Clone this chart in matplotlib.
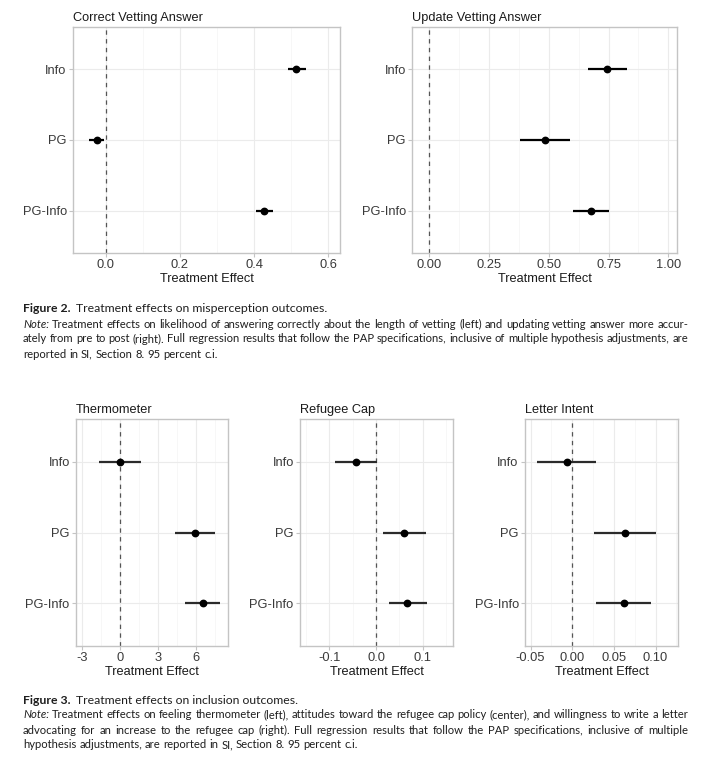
import numpy as np
import matplotlib
matplotlib.use("Agg")
import matplotlib.pyplot as plt

plt.rcParams['font.family'] = ['Liberation Sans', 'DejaVu Sans']
plt.rcParams['axes.unicode_minus'] = False

W, H = 701, 758

cats = ["Info", "PG", "PG-Info"]

# Figure 2 panels
correct_est = [0.513, -0.024, 0.427]
correct_lo = [0.490, -0.044, 0.405]
correct_hi = [0.540, -0.005, 0.450]

update_est = [0.745, 0.484, 0.678]
update_lo = [0.663, 0.380, 0.600]
update_hi = [0.825, 0.590, 0.752]

# Figure 3 panels
thermo_est = [0.0, 5.97, 6.55]
thermo_lo = [-1.65, 4.35, 5.15]
thermo_hi = [1.65, 7.56, 7.96]

cap_est = [-0.043, 0.061, 0.067]
cap_lo = [-0.089, 0.016, 0.027]
cap_hi = [0.003, 0.108, 0.109]

letter_est = [-0.0068, 0.0628, 0.0620]
letter_lo = [-0.0427, 0.0260, 0.0290]
letter_hi = [0.0290, 0.1000, 0.0950]

fig = plt.figure(figsize=(W / 100, H / 100), dpi=100)


def add_ax(l, t, r, b):
    return fig.add_axes([l / W, 1 - b / H, (r - l) / W, (b - t) / H])


def forest(ax, title, est, lo, hi, xlim, xticks, xlabels, minor, lcol='black'):
    y = np.arange(len(cats))
    ax.set_xlim(xlim)
    ax.set_ylim(len(cats) - 0.4, -0.6)
    ax.set_xticks(xticks)
    ax.set_xticklabels(xlabels)
    ax.set_xticks(minor, minor=True)
    ax.set_yticks(y)
    ax.set_yticklabels(cats)
    ax.grid(which='major', color='#EBEBEB', lw=0.8)
    ax.grid(which='minor', axis='x', color='#F4F4F4', lw=0.5)
    ax.set_axisbelow(True)
    for s in ax.spines.values():
        s.set_color('#C4C4C4')
        s.set_linewidth(1.0)
    ax.tick_params(which='major', color='#C4C4C4', length=3, width=0.8,
                   labelcolor='#3A3A3A', labelsize=9.3, pad=1.5)
    ax.tick_params(which='minor', length=0)
    ax.axvline(0, color='#555555', lw=0.9, ls=(0, (3.5, 3.5)), zorder=2)
    ax.hlines(y, lo, hi, color=lcol, lw=1.6, zorder=3)
    ax.plot(est, y, 'o', color='black', ms=4.6, zorder=4)
    ax.set_xlabel("Treatment Effect", fontsize=9.2, color='#1A1A1A', labelpad=1)
    ax.set_title(title, loc='left', fontsize=9.2, color='#1A1A1A', pad=4)


ax1 = add_ax(73, 27, 340, 253)
forest(ax1, "Correct Vetting Answer", correct_est, correct_lo, correct_hi,
       (-0.088, 0.631), [0.0, 0.2, 0.4, 0.6], ["0.0", "0.2", "0.4", "0.6"],
       [0.1, 0.3, 0.5])

ax2 = add_ax(412, 27, 677, 253)
forest(ax2, "Update Vetting Answer", update_est, update_lo, update_hi,
       (-0.072, 1.036), [0, 0.25, 0.5, 0.75, 1.0],
       ["0.00", "0.25", "0.50", "0.75", "1.00"],
       [0.125, 0.375, 0.625, 0.875])

ax3 = add_ax(76, 419, 228, 646)
forest(ax3, "Thermometer", thermo_est, thermo_lo, thermo_hi,
       (-3.5, 8.57), [-3, 0, 3, 6], ["-3", "0", "3", "6"],
       [-1.5, 1.5, 4.5, 7.5], lcol='#2B2B2B')

ax4 = add_ax(300, 419, 453, 646)
forest(ax4, "Refugee Cap", cap_est, cap_lo, cap_hi,
       (-0.163, 0.165), [-0.1, 0.0, 0.1], ["-0.1", "0.0", "0.1"],
       [-0.15, -0.05, 0.05, 0.15], lcol='#2B2B2B')

ax5 = add_ax(525, 419, 678, 646)
forest(ax5, "Letter Intent", letter_est, letter_lo, letter_hi,
       (-0.0567, 0.127), [-0.05, 0.0, 0.05, 0.10],
       ["-0.05", "0.00", "0.05", "0.10"],
       [-0.025, 0.025, 0.075, 0.125], lcol='#2B2B2B')

# captions
renderer = fig.canvas.get_renderer()
CAP_FONT = ['Lato', 'DejaVu Sans']
CAP_SIZE = 8.1
X0, X1 = 23, 688


def text_line(y, parts, justify, size=CAP_SIZE):
    words = []
    for txt, kw in parts:
        for w in txt.split(' '):
            if w:
                words.append((w, kw))
    objs = [fig.text(0, 1 - y / H, w, fontsize=size, va='center', ha='left',
                     family=CAP_FONT, color='#1E1E1E', **kw) for w, kw in words]
    widths = [o.get_window_extent(renderer).width for o in objs]
    probe = fig.text(0, 0, "a a", fontsize=size, family=CAP_FONT)
    probe2 = fig.text(0, 0, "aa", fontsize=size, family=CAP_FONT)
    space = probe.get_window_extent(renderer).width - probe2.get_window_extent(renderer).width
    probe.remove()
    probe2.remove()
    if justify and len(objs) > 1:
        gap = (X1 - X0 - sum(widths)) / (len(objs) - 1)
    else:
        gap = space
    x = X0
    for o, w in zip(objs, widths):
        o.set_x(x / W)
        x += w + gap


def caption(y0, num, head, lines):
    t = fig.text(X0 / W, 1 - y0 / H, "Figure %d." % num, fontsize=8.8,
                 fontweight='bold', family=CAP_FONT, va='center', color='#1E1E1E')
    wd = t.get_window_extent(renderer).width
    fig.text((X0 + wd + 6) / W, 1 - y0 / H, head, fontsize=8.8,
             family=CAP_FONT, va='center', color='#1E1E1E')
    step = 15
    for i, ln in enumerate(lines):
        text_line(y0 + step * (i + 1), ln, justify=(i < len(lines) - 1))


caption(309, 2, "Treatment effects on misperception outcomes.", [
    [("Note:", {'style': 'italic'}),
     ("Treatment effects on likelihood of answering correctly about the length of "
      "vetting (left) and updating vetting answer more accur-", {})],
    [("ately from pre to post (right). Full regression results that follow the PAP "
      "specifications, inclusive of multiple hypothesis adjustments, are", {})],
    [("reported in SI, Section 8. 95 percent c.i.", {})],
])

caption(700, 3, "Treatment effects on inclusion outcomes.", [
    [("Note:", {'style': 'italic'}),
     ("Treatment effects on feeling thermometer (left), attitudes toward the refugee "
      "cap policy (center), and willingness to write a letter", {})],
    [("advocating for an increase to the refugee cap (right). Full regression results "
      "that follow the PAP specifications, inclusive of multiple", {})],
    [("hypothesis adjustments, are reported in SI, Section 8. 95 percent c.i.", {})],
])

fig.savefig("out.png", dpi=100, facecolor='white')
